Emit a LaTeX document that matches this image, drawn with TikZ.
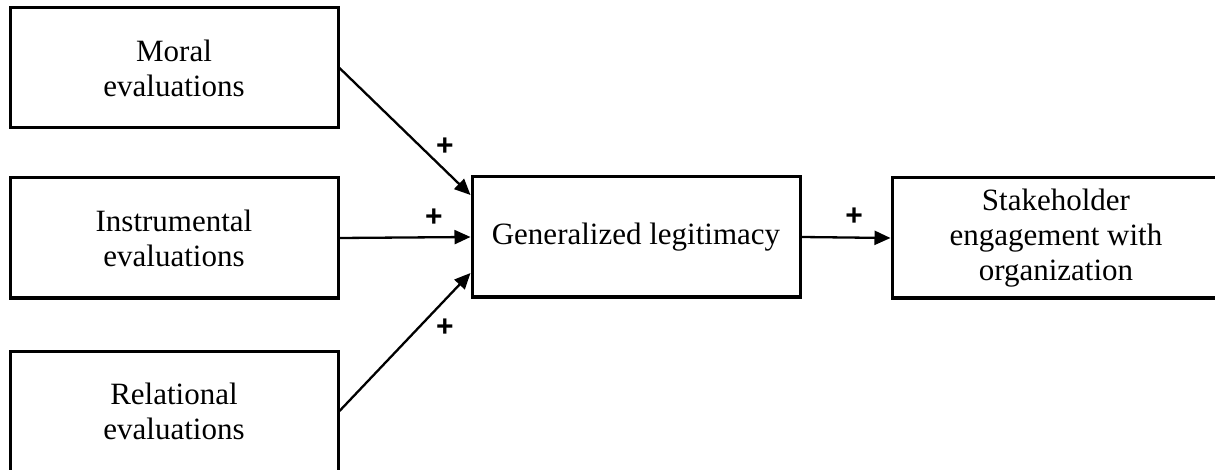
\documentclass[tikz,border=0pt]{standalone}
\usepackage{fontspec}
\setmainfont{Liberation Serif}
\newfontfamily\plusfont{Liberation Sans}
\usetikzlibrary{arrows.meta}

\begin{document}
\begin{tikzpicture}[x=1pt,y=-1pt,
    box/.style={draw, line width=3pt, minimum width=328pt,
            minimum height=120pt, inner sep=0pt, align=center,
            font=\fontsize{31}{35}\selectfont},
    link/.style={line width=2.3pt, -{Triangle[length=16pt,width=14pt]}},
    sign/.style={inner sep=0pt, font=\plusfont\bfseries\fontsize{30}{30}\selectfont}]
    \useasboundingbox (0,0) rectangle (1215,470);
    \node[box] (moral) at (174,68)
            {Moral\\evaluations};
    \node[box] (instr) at (174,238)
            {Instrumental\\evaluations};
    \node[box] (rel) at (174,411)
            {Relational\\evaluations};
    \node[box] (legit) at (636,237)
            {Generalized legitimacy};
    \node[box] (engage) at (1056,238)
            {Stakeholder\\engagement with\\organization};
    \draw[link] (moral.east) -- ([yshift=42pt]legit.west);
    \draw[link] (instr.east) -- (legit.west);
    \draw[link] (rel.east) -- ([yshift=-36pt]legit.west);
    \draw[link] (legit.east) -- (engage.west);
    \node[sign] (pm) at (445,147) {+};
    \node[sign] (pi) at (434,218) {+};
    \node[sign] (pr) at (445,328) {+};
    \node[sign] (pl) at (854,217) {+};
\end{tikzpicture}
\end{document}
